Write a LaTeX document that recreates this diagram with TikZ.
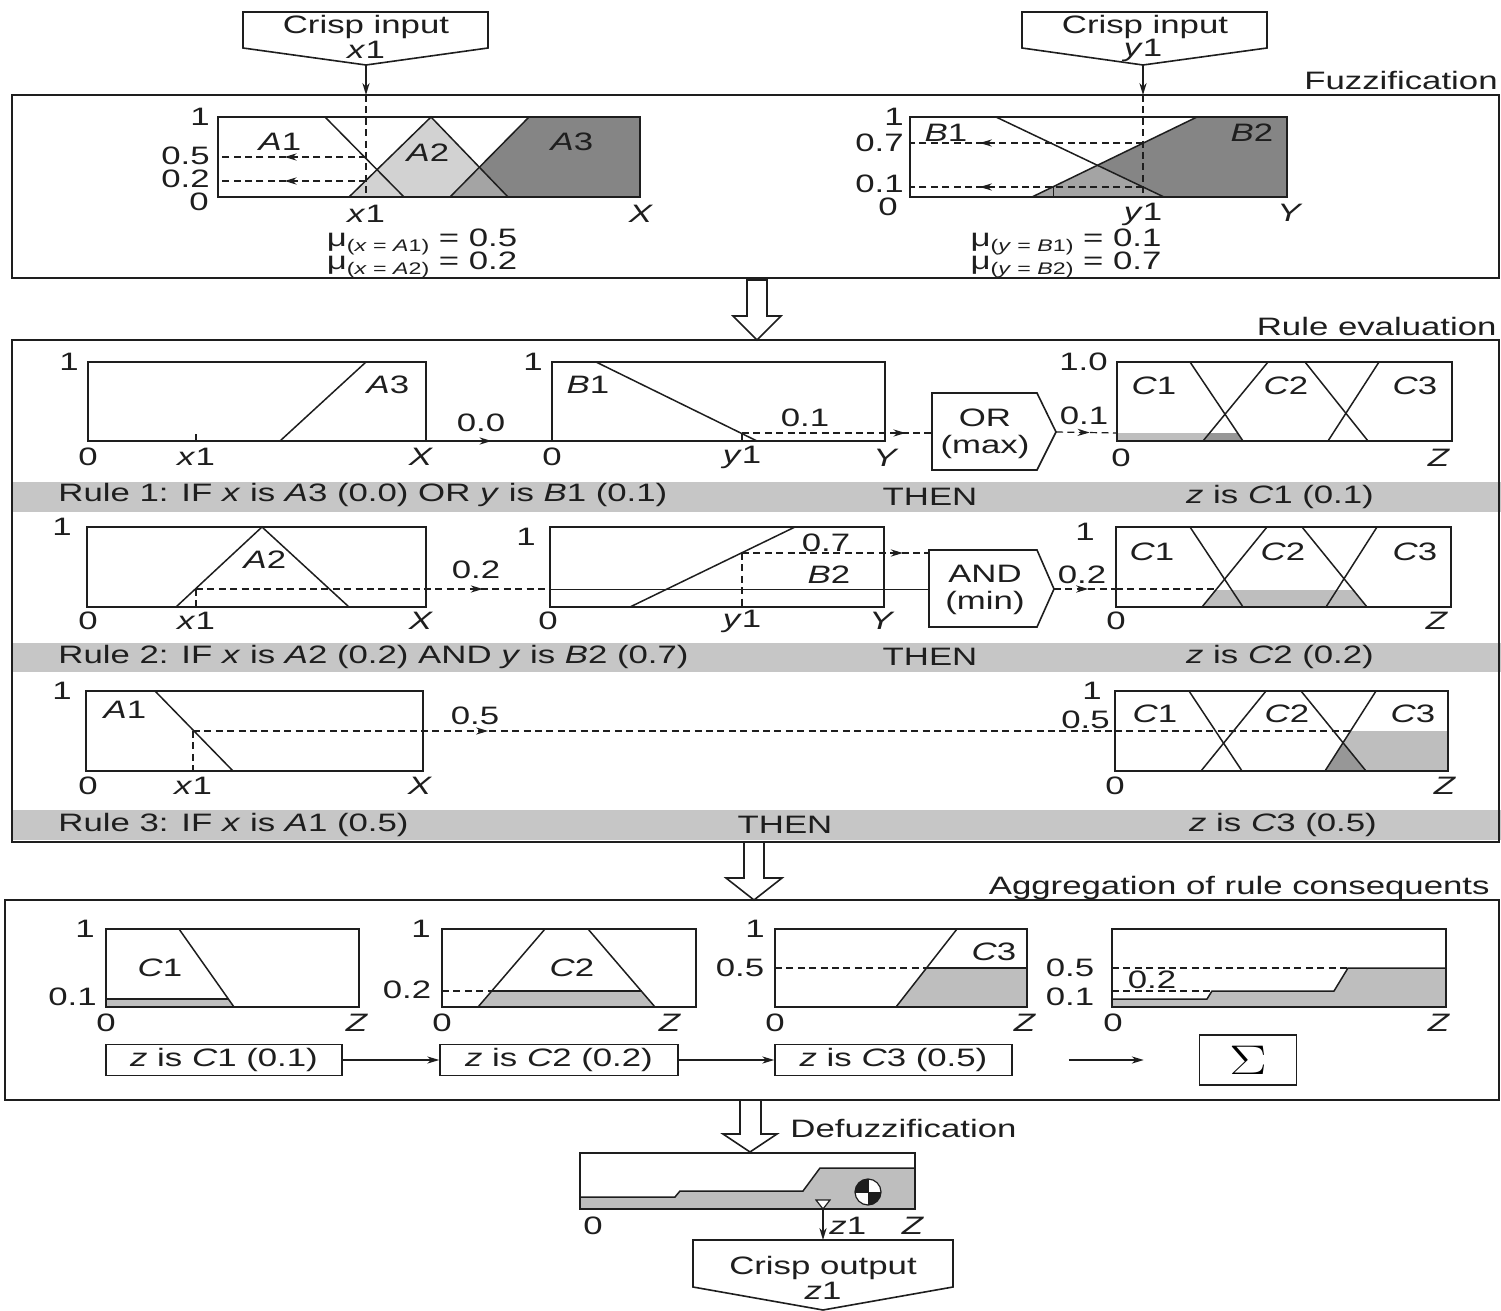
\documentclass[tikz,border=0pt]{standalone}
\usepackage{fontspec}
\setmainfont{Liberation Sans}[FakeStretch=1.38]
\usetikzlibrary{arrows.meta,decorations.markings}
\definecolor{bandc}{HTML}{C6C6C6}
\definecolor{lightc}{HTML}{D2D2D2}
\definecolor{darkc}{HTML}{858585}
\definecolor{midc}{HTML}{A4A4A4}
\definecolor{shadec}{HTML}{BEBEBE}
\definecolor{shaded}{HTML}{979797}
\definecolor{ink}{HTML}{1E1E1E}
\newcommand{\iv}[1]{\textit{#1}}
\newcommand{\mulab}[2]{μ\raisebox{-2.5pt}{\fontsize{8.4}{8.4}\selectfont(#1)} = #2}
\tikzset{
  boxframe/.style={draw=ink, line width=0.8pt},
  fn/.style={draw=ink, line width=0.75pt},
  dsh/.style={draw=ink, line width=0.6pt, dash pattern=on 3.5pt off 2.2pt},
  arrowed/.style={-{Stealth[length=6pt,width=3.6pt]}},
  midarr/.style={postaction={decorate}, decoration={markings, mark=at position #1 with {\arrow{Stealth[length=6pt,width=3.6pt]}}}},
  lbl/.style={inner sep=0pt, text=ink},
  hollowarrow/.style={draw=ink, line width=0.8pt, fill=white},
  rbox/.style={draw=ink, line width=0.8pt, minimum height=15.5pt, inner sep=0pt, text=ink},
}
\begin{document}
\begin{tikzpicture}[x=0.5pt,y=-0.5pt,font=\fontsize{12.6}{14}\selectfont]
\useasboundingbox (0,0) rectangle (1501,1311);
\fill[white] (0,0) rectangle (1501,1311);

% ================= FUZZIFICATION =================
\draw[boxframe] (12,95) rectangle (1499,278);
\node[lbl,anchor=east] (fuzlbl) at (1498,80) {Fuzzification};

% crisp input x1
\draw[boxframe,fill=white] (243,12) -- (488,12) -- (488,48) -- (366,65) -- (243,48) -- cycle;
\node[lbl] (in1a) at (366,27) {Crisp input};
\node[lbl] (in1b) at (366,50) {\iv{x}1};
\coordinate (in1tip) at (366,65);
\coordinate (fa1) at (366,95);
\coordinate (fa1b) at (366,197);
\draw[fn,arrowed] (in1tip) -- (fa1);

% crisp input y1
\draw[boxframe,fill=white] (1022,12) -- (1267,12) -- (1267,48) -- (1143,65) -- (1022,48) -- cycle;
\node[lbl] (in2a) at (1145,27) {Crisp input};
\node[lbl] (in2b) at (1143,50) {\iv{y}1};
\coordinate (in2tip) at (1143,65);
\coordinate (fb1) at (1143,95);
\coordinate (fb1b) at (1143,197);
\draw[fn,arrowed] (in2tip) -- (fb1);

% chart A
\fill[lightc] (349,197) -- (431,117) -- (508,197) -- cycle;
\fill[darkc] (450,197) -- (529,117) -- (640,117) -- (640,197) -- cycle;
\fill[midc] (450,197) -- (479.4,167.2) -- (508,197) -- cycle;
\draw[fn] (325,117) -- (404,197);
\draw[fn] (349,197) -- (431,117) -- (508,197);
\draw[fn] (450,197) -- (529,117);
\draw[boxframe] (218,117) rectangle (640,197);
\draw[dsh] (fa1) -- (fa1b);
\draw[dsh,midarr=0.55] (366,157) -- (218,157);
\draw[dsh,midarr=0.55] (366,181) -- (218,181);
\node[lbl,anchor=east] (a1) at (210,117) {1};
\node[lbl,anchor=east] (a05) at (210,156) {0.5};
\node[lbl,anchor=east] (a02) at (210,179) {0.2};
\node[lbl,anchor=east] (a0) at (209,202) {0};
\node[lbl] (aA1) at (280,142) {\iv{A}1};
\node[lbl] (aA2) at (428,153) {\iv{A}2};
\node[lbl] (aA3) at (572,142) {\iv{A}3};
\node[lbl] (ax1) at (366,214) {\iv{x}1};
\node[lbl] (aX) at (641,214) {\iv{X}};
\node[lbl] (mua1) at (422,242) {\mulab{\iv{x} = \iv{A}1}{0.5}};
\node[lbl] (mua2) at (422,265) {\mulab{\iv{x} = \iv{A}2}{0.2}};

% chart B
\fill[darkc] (1032,197) -- (1197,117) -- (1287,117) -- (1287,197) -- cycle;
\fill[midc] (1032,197) -- (1097.4,165.3) -- (1164,197) -- cycle;
\draw[fn] (996,117) -- (1164,197);
\draw[fn] (1032,197) -- (1197,117);
\draw[boxframe] (910,117) rectangle (1287,197);
\draw[dsh] (fb1) -- (fb1b);
\draw[dsh,midarr=0.7] (1143,143) -- (910,143);
\draw[dsh,midarr=0.7] (1143,187) -- (910,187);
\draw[fn,line width=0.5pt] (1053,187) -- (1053,197);
\node[lbl,anchor=east] (b1) at (904,117) {1};
\node[lbl,anchor=east] (b07) at (904,143) {0.7};
\node[lbl,anchor=east] (b01) at (904,184) {0.1};
\node[lbl,anchor=east] (b0) at (898,207) {0};
\node[lbl] (bB1) at (946,133) {\iv{B}1};
\node[lbl] (bB2) at (1252,133) {\iv{B}2};
\node[lbl] (by1) at (1143,214) {\iv{y}1};
\node[lbl] (bY) at (1290,213) {\iv{Y}};
\node[lbl] (mub1) at (1066,242) {\mulab{\iv{y} = \iv{B}1}{0.1}};
\node[lbl] (mub2) at (1066,265) {\mulab{\iv{y} = \iv{B}2}{0.7}};

% hollow arrow 1
\draw[hollowarrow] (747,280) -- (767,280) -- (767,316) -- (781,316) -- (757,340) -- (733,316) -- (747,316) -- cycle;

% ================= RULE EVALUATION =================
\node[lbl,anchor=east] (rulelbl) at (1497,326) {Rule evaluation};
\fill[bandc] (12,482) rectangle (1501,512);
\fill[bandc] (12,643) rectangle (1501,672);
\fill[bandc] (12,810) rectangle (1501,840);
\draw[boxframe] (12,340) rectangle (1499,842);

\node[lbl,anchor=west] (r1txt) at (58,495) {Rule 1: IF \iv{x} is \iv{A}3 (0.0) OR \iv{y} is \iv{B}1 (0.1)};
\node[lbl] (r1then) at (930,497) {THEN};
\node[lbl] (r1z) at (1280,497) {\iv{z} is \iv{C}1 (0.1)};
\node[lbl,anchor=west] (r2txt) at (58,657) {Rule 2: IF \iv{x} is \iv{A}2 (0.2) AND \iv{y} is \iv{B}2 (0.7)};
\node[lbl] (r2then) at (930,657) {THEN};
\node[lbl] (r2z) at (1280,657) {\iv{z} is \iv{C}2 (0.2)};
\node[lbl,anchor=west] (r3txt) at (58,825) {Rule 3: IF \iv{x} is \iv{A}1 (0.5)};
\node[lbl] (r3then) at (785,825) {THEN};
\node[lbl] (r3z) at (1283,825) {\iv{z} is \iv{C}3 (0.5)};

% ---- Rule 1 ----
\draw[fn] (280,441) -- (366,362);
\draw[boxframe] (88,362) rectangle (426,441);
\draw[fn] (196,434) -- (196,441);
\node[lbl] (r1a1) at (69,362) {1};
\node[lbl] (r1a0) at (88,457) {0};
\node[lbl] (r1ax) at (196,457) {\iv{x}1};
\node[lbl] (r1aX) at (421,457) {\iv{X}};
\node[lbl] (r1A3) at (388,385) {\iv{A}3};
\node[lbl] (r1v0) at (481,423) {0.0};
\coordinate (r1aout) at (426,441);
\coordinate (r1bin) at (552,441);
\draw[fn,midarr=0.52] (r1aout) -- (r1bin);

\draw[fn] (596,362) -- (757,441);
\draw[boxframe] (552,362) rectangle (885,441);
\draw[dsh] (742,433) -- (742,441);
\node[lbl] (r1b1) at (533,362) {1};
\node[lbl] (r1b0) at (552,457) {0};
\node[lbl] (r1by) at (742,457) {\iv{y}1};
\node[lbl] (r1bY) at (886,458) {\iv{Y}};
\node[lbl] (r1B1) at (588,385) {\iv{B}1};
\node[lbl] (r1v1) at (805,418) {0.1};
\coordinate (r1bout) at (742,433);

\draw[boxframe,fill=white] (932,393) -- (1037,393) -- (1056,432) -- (1037,470) -- (932,470) -- cycle;
\node[lbl] (ora) at (985,418) {OR};
\node[lbl] (orb) at (985,447) {(max)};
\coordinate (orin) at (932,433);
\coordinate (orout) at (1056,432);
\draw[dsh,midarr=0.86] (r1bout) -- (orin);

\fill[shadec] (1117,433) -- (1237.6,433) -- (1243,441) -- (1117,441) -- cycle;
\fill[shaded] (1203,441) -- (1209.6,433) -- (1237.6,433) -- (1243,441) -- cycle;
\draw[fn] (1190,362) -- (1243,441);
\draw[fn] (1203,441) -- (1268,362);
\draw[fn] (1305,362) -- (1368,441);
\draw[fn] (1328,441) -- (1379,362);
\draw[boxframe] (1117,362) rectangle (1452,441);
\coordinate (c1in) at (1117,433);
\draw[dsh,midarr=0.55] (orout) -- (c1in);
\node[lbl,anchor=east] (r1c1) at (1108,362) {1.0};
\node[lbl] (r1cv) at (1084,416) {0.1};
\node[lbl] (r1c0) at (1121,458) {0};
\node[lbl] (r1cZ) at (1439,458) {\iv{Z}};
\node[lbl] (r1C1) at (1154,386) {\iv{C}1};
\node[lbl] (r1C2) at (1286,386) {\iv{C}2};
\node[lbl] (r1C3) at (1415,386) {\iv{C}3};

% ---- Rule 2 ----
\draw[fn] (176,607) -- (262,527) -- (349,607);
\draw[boxframe] (87,527) rectangle (426,607);
\draw[dsh] (196,589) -- (196,607);
\node[lbl] (r2a1) at (62,527) {1};
\node[lbl] (r2a0) at (88,621) {0};
\node[lbl] (r2ax) at (196,621) {\iv{x}1};
\node[lbl] (r2aX) at (421,621) {\iv{X}};
\node[lbl] (r2A2) at (265,560) {\iv{A}2};
\node[lbl] (r2v2) at (476,570) {0.2};
\coordinate (r2aout) at (196,589);
\coordinate (r2bin) at (550,589);
\draw[dsh,midarr=0.81] (r2aout) -- (r2bin);

\draw[fn] (630,607) -- (795,527);
\draw[boxframe] (550,527) rectangle (884,607);
\draw[dsh] (742,553) -- (742,607);
\node[lbl] (r2b1) at (526,537) {1};
\node[lbl] (r2b0) at (548,621) {0};
\node[lbl] (r2by) at (742,621) {\iv{y}1};
\node[lbl] (r2bY) at (882,621) {\iv{Y}};
\node[lbl] (r2B2) at (829,575) {\iv{B}2};
\node[lbl] (r2v7) at (826,543) {0.7};
\coordinate (r2bout) at (742,553);

\draw[boxframe,fill=white] (929,550) -- (1037,550) -- (1054,589) -- (1037,627) -- (929,627) -- cycle;
\node[lbl] (anda) at (985,574) {AND};
\node[lbl] (andb) at (985,603) {(min)};
\coordinate (andin1) at (929,553);
\coordinate (andin2) at (929,589);
\coordinate (andout) at (1054,589);
\draw[dsh,midarr=0.86] (r2bout) -- (andin1);
\draw[fn,line width=0.5pt] (r2bin) -- (andin2);

\fill[shadec] (1202,607) -- (1215,590) -- (1354,590) -- (1367,607) -- cycle;
\draw[fn] (1190,527) -- (1243,607);
\draw[fn] (1202,607) -- (1267,527);
\draw[fn] (1302,527) -- (1367,607);
\draw[fn] (1326,607) -- (1377,527);
\draw[boxframe] (1116,527) rectangle (1451,607);
\coordinate (c2in) at (1116,589);
\draw[dsh,midarr=0.55] (andout) -- (c2in);
\draw[dsh] (c2in) -- (1215,589);
\node[lbl] (r2c1) at (1085,532) {1};
\node[lbl] (r2cv) at (1082,575) {0.2};
\node[lbl] (r2c0) at (1116,621) {0};
\node[lbl] (r2cZ) at (1437,621) {\iv{Z}};
\node[lbl] (r2C1) at (1152,552) {\iv{C}1};
\node[lbl] (r2C2) at (1283,552) {\iv{C}2};
\node[lbl] (r2C3) at (1415,552) {\iv{C}3};

% ---- Rule 3 ----
\draw[fn] (155,691) -- (233,771);
\draw[boxframe] (86,691) rectangle (423,771);
\draw[dsh] (193,731) -- (193,771);
\node[lbl] (r3a1) at (62,691) {1};
\node[lbl] (r3a0) at (88,786) {0};
\node[lbl] (r3ax) at (193,786) {\iv{x}1};
\node[lbl] (r3aX) at (420,786) {\iv{X}};
\node[lbl] (r3A1) at (125,710) {\iv{A}1};
\node[lbl] (r3v5) at (475,716) {0.5};
\coordinate (r3aout) at (193,731);
\coordinate (c3in) at (1115,731);
\draw[dsh,midarr=0.32] (r3aout) -- (c3in);

\fill[shadec] (1325,771) -- (1350.5,731) -- (1448,731) -- (1448,771) -- cycle;
\fill[shaded] (1325,771) -- (1343,742.7) -- (1366,771) -- cycle;
\draw[dsh] (c3in) -- (1350.5,731);
\draw[fn] (1189,691) -- (1242,771);
\draw[fn] (1201,771) -- (1266,691);
\draw[fn] (1301,691) -- (1366,771);
\draw[fn] (1325,771) -- (1376,691);
\draw[boxframe] (1115,691) rectangle (1448,771);
\node[lbl] (r3c1) at (1092,691) {1};
\node[lbl,anchor=east] (r3c5) at (1110,720) {0.5};
\node[lbl] (r3c0) at (1115,786) {0};
\node[lbl] (r3cZ) at (1445,786) {\iv{Z}};
\node[lbl] (r3C1) at (1155,714) {\iv{C}1};
\node[lbl] (r3C2) at (1287,714) {\iv{C}2};
\node[lbl] (r3C3) at (1413,714) {\iv{C}3};

% hollow arrow 2
\draw[hollowarrow] (744,842) -- (764,842) -- (764,878) -- (782,878) -- (754,900) -- (726,878) -- (744,878) -- cycle;

% ================= AGGREGATION =================
\node[lbl,anchor=east] (agglbl) at (1490,888) {Aggregation of rule consequents};
\draw[boxframe] (5,900) rectangle (1499,1100);

% C1
\fill[shadec] (106,999) -- (228.5,999) -- (234,1007) -- (106,1007) -- cycle;
\draw[fn] (106,999) -- (228.5,999);
\draw[fn] (179,929) -- (234,1007);
\draw[boxframe] (106,929) rectangle (359,1007);
\node[lbl] (g1one) at (85,929) {1};
\node[lbl,anchor=east] (g1v) at (97,997) {0.1};
\node[lbl] (g1zero) at (106,1023) {0};
\node[lbl] (g1Z) at (357,1023) {\iv{Z}};
\node[lbl] (g1C) at (160,968) {\iv{C}1};

% C2
\fill[shadec] (478,1007) -- (491.4,991) -- (641.6,991) -- (655,1007) -- cycle;
\draw[fn] (491.4,991) -- (641.6,991);
\draw[dsh] (442,991) -- (491.4,991);
\draw[fn] (478,1007) -- (545,929);
\draw[fn] (588,929) -- (655,1007);
\draw[boxframe] (442,929) rectangle (696,1007);
\node[lbl] (g2one) at (421,929) {1};
\node[lbl] (g2v) at (407,990) {0.2};
\node[lbl] (g2zero) at (442,1023) {0};
\node[lbl] (g2Z) at (670,1023) {\iv{Z}};
\node[lbl] (g2C) at (572,968) {\iv{C}2};

% C3
\fill[shadec] (896,1007) -- (926.5,968) -- (1027,968) -- (1027,1007) -- cycle;
\draw[fn] (926.5,968) -- (1027,968);
\draw[dsh] (775,968) -- (926.5,968);
\draw[fn] (896,1007) -- (957,929);
\draw[boxframe] (775,929) rectangle (1027,1007);
\node[lbl] (g3one) at (755,929) {1};
\node[lbl] (g3v) at (740,968) {0.5};
\node[lbl] (g3zero) at (775,1023) {0};
\node[lbl] (g3Z) at (1025,1023) {\iv{Z}};
\node[lbl] (g3C) at (994,952) {\iv{C}3};

% aggregated
\fill[shadec] (1112,999) -- (1207,999) -- (1212,991) -- (1334,991) -- (1348,968) -- (1446,968) -- (1446,1007) -- (1112,1007) -- cycle;
\draw[fn] (1112,999) -- (1207,999) -- (1212,991) -- (1334,991) -- (1348,968) -- (1446,968);
\draw[dsh] (1112,968) -- (1348,968);
\draw[dsh] (1112,991) -- (1212,991);
\draw[boxframe] (1112,929) rectangle (1446,1007);
\node[lbl] (g4v5) at (1070,968) {0.5};
\node[lbl] (g4v1) at (1070,997) {0.1};
\node[lbl] (g4v2) at (1152,980) {0.2};
\node[lbl] (g4zero) at (1113,1023) {0};
\node[lbl] (g4Z) at (1439,1023) {\iv{Z}};

% consequent boxes
\node[rbox,minimum width=118pt] (cb1) at (224,1060) {\iv{z} is \iv{C}1 (0.1)};
\node[rbox,minimum width=119pt] (cb2) at (559,1060) {\iv{z} is \iv{C}2 (0.2)};
\node[rbox,minimum width=118.5pt] (cb3) at (893.5,1060) {\iv{z} is \iv{C}3 (0.5)};
\node[draw=ink,line width=0.8pt,minimum width=48.5pt,minimum height=25pt,inner sep=0pt] (sig) at (1248,1060) {\scalebox{1.35}[1]{\fontsize{22}{22}\selectfont$\Sigma$}};
\draw[fn,line width=0.6pt,arrowed] (cb1) -- (cb2);
\draw[fn,line width=0.6pt,arrowed] (cb2) -- (cb3);
\draw[fn,line width=0.6pt,arrowed,shorten <=28pt,shorten >=27.5pt] (cb3) -- (sig);

% hollow arrow 3
\draw[hollowarrow] (740,1100) -- (761,1100) -- (761,1134) -- (777,1134) -- (750,1152) -- (723,1134) -- (740,1134) -- cycle;
\node[lbl,anchor=west] (defuzlbl) at (790,1128) {Defuzzification};

% ================= DEFUZZIFICATION =================
\fill[shadec] (580,1197) -- (675,1197) -- (680,1191) -- (803,1191) -- (820,1168) -- (915,1168) -- (915,1209) -- (580,1209) -- cycle;
\draw[fn] (580,1197) -- (675,1197) -- (680,1191) -- (803,1191) -- (820,1168) -- (915,1168);
\draw[boxframe] (580,1153) rectangle (915,1209);
% centroid symbol
\fill[white] (868,1192) circle (6.5pt);
\fill[ink] (868,1192) -- ++(13,0) arc[start angle=0,end angle=-90,radius=6.5pt] -- cycle;
\fill[ink] (868,1192) -- ++(-13,0) arc[start angle=180,end angle=90,radius=6.5pt] -- cycle;
\draw[ink,line width=0.6pt] (868,1192) circle (6.5pt);
\draw[ink,line width=0.5pt] (855,1192) -- (881,1192) (868,1179) -- (868,1205);
\draw[fn,fill=white,line width=0.6pt] (816,1200) -- (830,1200) -- (823,1209) -- cycle;
\node[lbl] (dz0) at (593,1226) {0};
\node[lbl] (dzZ) at (913,1226) {\iv{Z}};
\node[lbl,anchor=west] (dz1) at (829,1226) {\iv{z}1};
\coordinate (dzout) at (823,1209);
\coordinate (outin) at (823,1240);
\draw[fn,arrowed] (dzout) -- (outin);

% crisp output
\draw[boxframe,fill=white] (693,1240) -- (953,1240) -- (953,1287) -- (823,1310) -- (693,1287) -- cycle;
\node[lbl] (outa) at (823,1268) {Crisp output};
\node[lbl] (outb) at (823,1291) {\iv{z}1};
\end{tikzpicture}
\end{document}
